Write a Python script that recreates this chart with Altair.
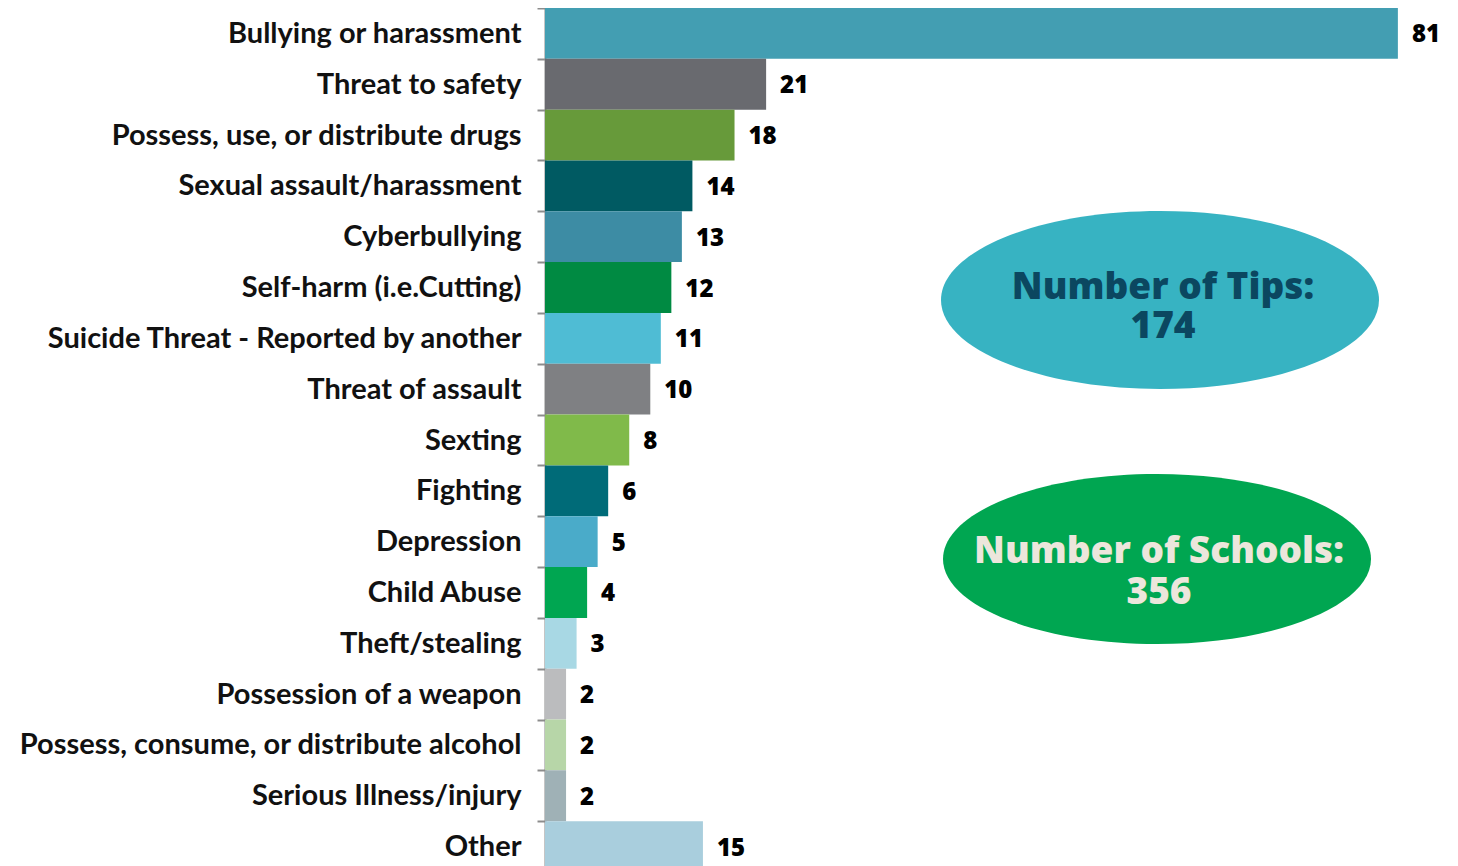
import altair as alt
import pandas as pd

categories = [
    "Bullying or harassment",
    "Threat to safety",
    "Possess, use, or distribute drugs",
    "Sexual assault/harassment",
    "Cyberbullying",
    "Self-harm (i.e.Cutting)",
    "Suicide Threat - Reported by another",
    "Threat of assault",
    "Sexting",
    "Fighting",
    "Depression",
    "Child Abuse",
    "Theft/stealing",
    "Possession of a weapon",
    "Possess, consume, or distribute alcohol",
    "Serious Illness/injury",
    "Other",
]
counts = [81, 21, 18, 14, 13, 12, 11, 10, 8, 6, 5, 4, 3, 2, 2, 2, 15]
colors = [
    "#439EB2", "#696A6F", "#679A3A", "#005A62", "#3D8CA4", "#008A42",
    "#4FBCD4", "#7F8083", "#80BA4A", "#006B78", "#4AABC9", "#00A651",
    "#A8D8E4", "#BBBCBE", "#B7D6A8", "#9FB1B6", "#A9CEDD",
]

summary_titles = ["Number of Tips:", "Number of Schools:"]
summary_values = ["174", "356"]

df = pd.DataFrame({"category": categories, "count": counts, "color": colors})

x_enc = alt.X("count:Q", axis=None, scale=alt.Scale(domain=[0, 85]))
y_enc = alt.Y(
    "category:N",
    sort=categories,
    scale=alt.Scale(domain=categories, range=[0, 864], paddingInner=0, paddingOuter=0),
    axis=alt.Axis(
        title=None,
        domainColor="#8C8C8C",
        domainWidth=2,
        tickColor="#8C8C8C",
        tickWidth=2,
        tickSize=8,
        tickBand="extent",
        labelFont="Lato",
        labelFontWeight="bold",
        labelFontSize=29,
        labelColor="#111111",
        labelPadding=16,
        labelLimit=700,
    ),
)

bars = alt.Chart(df).mark_bar().encode(
    x=x_enc, y=y_enc, color=alt.Color("color:N", scale=None)
)
labels = alt.Chart(df).mark_text(
    align="left", baseline="middle", dx=14, dy=2,
    font="Open Sans", fontWeight=800, fontSize=24, color="#000000",
).encode(x=x_enc, y=y_enc, text="count:Q")

sdf1 = pd.DataFrame({"title": [summary_titles[0]], "value": [summary_values[0]]})
sdf2 = pd.DataFrame({"title": [summary_titles[1]], "value": [summary_values[1]]})

ell1 = alt.Chart(sdf1).mark_point(
    shape="M-1,0A1,0.4064,0,1,0,1,0A1,0.4064,0,1,0,-1,0Z",
    filled=True, opacity=1, color="#37B3C2", strokeWidth=0,
).encode(x=alt.value(615), y=alt.value(292), size=alt.value(438 ** 2))
ell2 = alt.Chart(sdf2).mark_point(
    shape="M-1,0A1,0.397,0,1,0,1,0A1,0.397,0,1,0,-1,0Z",
    filled=True, opacity=1, color="#00A651", strokeWidth=0,
).encode(x=alt.value(612), y=alt.value(551), size=alt.value(428 ** 2))

tstyle = dict(align="center", baseline="alphabetic", font="Open Sans",
              fontWeight=800, fontSize=37)
t1a = alt.Chart(sdf1).mark_text(color="#0B4760", **tstyle).encode(
    x=alt.value(618), y=alt.value(291), text="title:N")
t1b = alt.Chart(sdf1).mark_text(color="#0B4760", **tstyle).encode(
    x=alt.value(618), y=alt.value(330), text="value:N")
t2a = alt.Chart(sdf2).mark_text(color="#ECE6DC", **tstyle).encode(
    x=alt.value(614), y=alt.value(555), text="title:N")
t2b = alt.Chart(sdf2).mark_text(color="#ECE6DC", **tstyle).encode(
    x=alt.value(614), y=alt.value(596), text="value:N")

chart = alt.layer(bars, labels, ell1, ell2, t1a, t1b, t2a, t2b).properties(
    width=895,
    height=858,
    autosize=alt.AutoSizeParams(type="none"),
    padding={"left": 537, "top": 0, "right": 10, "bottom": 0},
).configure_view(stroke=None)

chart.save("out.html", embed_options={"renderer": "svg", "actions": False})
